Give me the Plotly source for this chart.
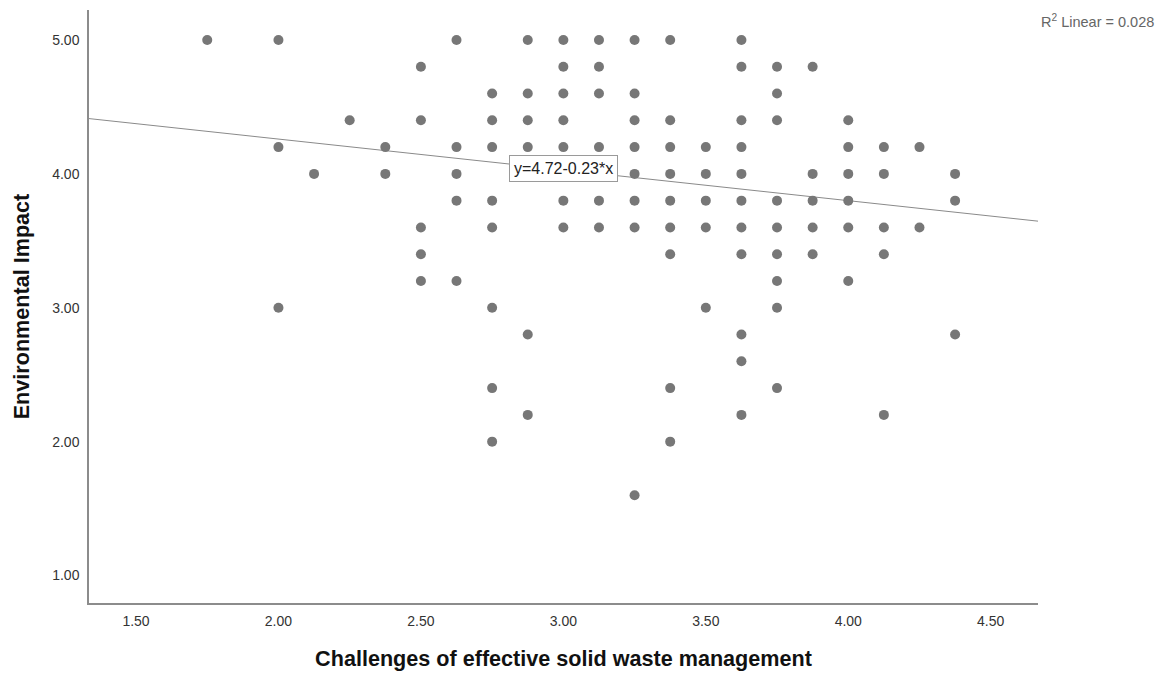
import plotly.graph_objects as go

# Data (x = challenges score, y = environmental impact)
x_cols = [1.75, 2.0, 2.125, 2.25, 2.375, 2.5, 2.625, 2.75, 2.875, 3.0, 3.125,
          3.25, 3.375, 3.5, 3.625, 3.75, 3.875, 4.0, 4.125, 4.25, 4.375]
y_by_col = [
    [5.0],
    [5.0, 4.2, 3.0],
    [4.0],
    [4.4],
    [4.2, 4.0],
    [4.8, 4.4, 3.6, 3.4, 3.2],
    [5.0, 4.2, 4.0, 3.8, 3.2],
    [4.6, 4.4, 4.2, 3.8, 3.6, 3.0, 2.4, 2.0],
    [5.0, 4.6, 4.4, 4.2, 2.8, 2.2],
    [5.0, 4.8, 4.6, 4.4, 4.2, 3.8, 3.6],
    [5.0, 4.8, 4.6, 4.2, 3.8, 3.6],
    [5.0, 4.6, 4.4, 4.2, 4.0, 3.8, 3.6, 1.6],
    [5.0, 4.4, 4.2, 4.0, 3.8, 3.6, 3.4, 2.4, 2.0],
    [4.2, 4.0, 3.8, 3.6, 3.0],
    [5.0, 4.8, 4.4, 4.2, 4.0, 3.8, 3.6, 3.4, 2.8, 2.6, 2.2],
    [4.8, 4.6, 4.4, 3.8, 3.6, 3.4, 3.2, 3.0, 2.4],
    [4.8, 4.0, 3.8, 3.6, 3.4],
    [4.4, 4.2, 4.0, 3.8, 3.6, 3.2],
    [4.2, 4.0, 3.6, 3.4, 2.2],
    [4.2, 3.6],
    [4.0, 3.8, 2.8],
]
INTERCEPT = 4.72
SLOPE = -0.23
R2 = 0.028

x_ticks = [1.5, 2.0, 2.5, 3.0, 3.5, 4.0, 4.5]
y_ticks = [1.0, 2.0, 3.0, 4.0, 5.0]
X_RANGE = [1.335, 4.666]
Y_RANGE = [0.795, 5.224]

xs, ys = [], []
for xv, col in zip(x_cols, y_by_col):
    for yv in col:
        xs.append(xv)
        ys.append(yv)

fig = go.Figure()
fig.add_trace(go.Scatter(
    x=X_RANGE, y=[INTERCEPT + SLOPE * v for v in X_RANGE],
    mode="lines", line=dict(color="#8a8a8a", width=1), showlegend=False,
    hoverinfo="skip"))
fig.add_trace(go.Scatter(
    x=xs, y=ys, mode="markers",
    marker=dict(size=10, color="#777777", line=dict(width=0)),
    showlegend=False))

font_family = "Liberation Sans, Arial, sans-serif"
fig.update_layout(
    width=1163, height=667,
    margin=dict(l=81, r=133, t=2, b=72),
    paper_bgcolor="white", plot_bgcolor="white",
    font=dict(family=font_family, color="#333333", size=14),
    xaxis=dict(range=X_RANGE, tickvals=x_ticks,
               ticktext=[f"{v:.2f}" for v in x_ticks],
               showgrid=False, zeroline=False, showline=True,
               linecolor="#8c8c8c", linewidth=1.5, ticks="",
               ticklabelstandoff=4,
               tickfont=dict(size=14, color="#333333"),
               title=dict(text="<b>Challenges of effective solid waste management</b>",
                          font=dict(size=21.6, color="#111111"), standoff=23)),
    yaxis=dict(range=Y_RANGE, tickvals=y_ticks,
               ticktext=[f"{v:.2f}" for v in y_ticks],
               showgrid=False, zeroline=False, showline=True,
               linecolor="#8c8c8c", linewidth=1.5, ticks="",
               ticklabelstandoff=5,
               tickfont=dict(size=14, color="#333333"),
               title=dict(text="<b>Environmental Impact</b>",
                          font=dict(size=21.6, color="#111111"), standoff=17)),
    annotations=[
        dict(x=3.0, y=4.04, xref="x", yref="y",
             text=f"y={INTERCEPT:.2f}{SLOPE:+.2f}*x",
             showarrow=False, font=dict(size=16, color="#222222"),
             bgcolor="white", bordercolor="#9a9a9a", borderwidth=1, borderpad=4),
        dict(x=1.0, y=1.0, xref="paper", yref="paper",
             xanchor="left", yanchor="top", xshift=1, yshift=0,
             text=f"R<sup>2</sup> Linear = {R2:.3f}",
             showarrow=False, font=dict(size=14.5, color="#666666")),
    ],
)

fig.write_html("out.html")
